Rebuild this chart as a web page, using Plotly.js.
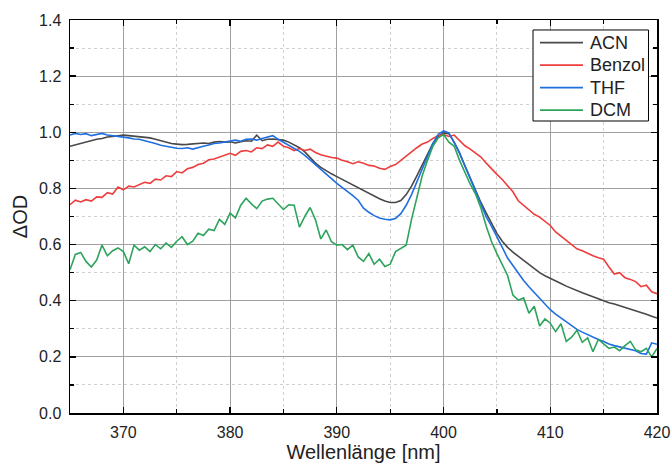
<!DOCTYPE html>
<html>
<head>
<meta charset="utf-8">
<script src="https://cdn.plot.ly/plotly-3.0.1.min.js"></script>
<style>html,body{margin:0;padding:0;background:#fff;}#chart{width:672px;height:467px;}</style>
</head>
<body>
<div id="chart"></div>
<script>
const wavelength = [365,365.5,366,366.5,367,367.5,368,368.5,369,369.5,370,370.5,371,371.5,372,372.5,373,373.5,374,374.5,
375,375.5,376,376.5,377,377.5,378,378.5,379,379.5,380,380.5,381,381.5,382,382.5,383,383.5,384,384.5,
385,385.5,386,386.5,387,387.5,388,388.5,389,389.5,390,390.5,391,391.5,392,392.5,393,393.5,394,394.5,
395,395.5,396,396.5,397,397.5,398,398.5,399,399.5,400,400.5,401,401.5,402,402.5,403,403.5,404,404.5,
405,405.5,406,406.5,407,407.5,408,408.5,409,409.5,410,410.5,411,411.5,412,412.5,413,413.5,414,414.5,
415,415.5,416,416.5,417,417.5,418,418.5,419,419.5,420];

const acn = [0.950,0.955,0.962,0.965,0.970,0.975,0.978,0.983,0.985,0.988,0.990,0.988,0.986,0.985,0.983,0.980,0.975,0.970,0.965,0.960,
0.958,0.956,0.957,0.958,0.960,0.962,0.960,0.965,0.967,0.965,0.966,0.962,0.966,0.970,0.968,0.990,0.970,0.975,0.976,0.975,
0.972,0.965,0.955,0.945,0.930,0.910,0.890,0.875,0.862,0.852,0.842,0.832,0.822,0.812,0.802,0.792,0.782,0.772,0.763,0.755,
0.750,0.750,0.757,0.778,0.808,0.845,0.885,0.925,0.960,0.985,0.998,0.995,0.965,0.925,0.880,0.835,0.790,0.750,0.712,0.675,
0.640,0.612,0.590,0.573,0.558,0.542,0.527,0.512,0.500,0.489,0.479,0.470,0.461,0.452,0.443,0.435,0.428,0.421,0.414,0.406,
0.398,0.393,0.388,0.382,0.377,0.371,0.366,0.360,0.352,0.345,0.338];

const benzol = [0.742,0.758,0.752,0.760,0.755,0.770,0.768,0.785,0.780,0.805,0.795,0.808,0.805,0.815,0.822,0.818,0.833,0.830,0.845,0.842,
0.860,0.855,0.870,0.875,0.885,0.890,0.902,0.905,0.912,0.920,0.925,0.918,0.932,0.935,0.930,0.945,0.942,0.955,0.950,0.965,
0.950,0.945,0.935,0.942,0.935,0.940,0.928,0.920,0.915,0.910,0.908,0.900,0.895,0.888,0.895,0.890,0.882,0.880,0.872,0.868,
0.878,0.885,0.900,0.915,0.932,0.945,0.958,0.965,0.978,0.988,0.992,0.985,0.990,0.970,0.952,0.940,0.925,0.912,0.890,0.868,
0.850,0.832,0.810,0.788,0.756,0.740,0.722,0.708,0.698,0.682,0.668,0.645,0.630,0.618,0.600,0.585,0.578,0.568,0.560,0.553,
0.548,0.520,0.495,0.500,0.482,0.476,0.468,0.450,0.455,0.432,0.425];

const thf = [0.990,0.996,0.992,0.995,0.988,0.993,0.996,0.990,0.988,0.986,0.982,0.980,0.976,0.975,0.970,0.966,0.960,0.954,0.950,0.946,
0.943,0.942,0.945,0.940,0.946,0.950,0.955,0.960,0.962,0.966,0.970,0.972,0.968,0.975,0.976,0.972,0.978,0.984,0.988,0.975,
0.965,0.955,0.945,0.932,0.918,0.902,0.885,0.868,0.852,0.835,0.818,0.804,0.790,0.774,0.758,0.730,0.715,0.703,0.695,0.690,
0.688,0.693,0.710,0.740,0.778,0.823,0.870,0.915,0.960,0.993,1.005,0.998,0.965,0.928,0.880,0.835,0.785,0.740,0.699,0.665,
0.625,0.590,0.552,0.525,0.498,0.472,0.450,0.430,0.410,0.390,0.368,0.352,0.338,0.323,0.310,0.298,0.288,0.279,0.270,0.262,
0.255,0.246,0.240,0.236,0.232,0.228,0.222,0.212,0.210,0.250,0.245];

const dcm = [0.510,0.565,0.572,0.540,0.520,0.545,0.598,0.560,0.578,0.588,0.575,0.532,0.598,0.580,0.592,0.575,0.600,0.585,0.605,0.590,
0.612,0.628,0.600,0.612,0.640,0.632,0.655,0.650,0.690,0.672,0.712,0.695,0.740,0.765,0.745,0.728,0.755,0.762,0.765,0.745,
0.725,0.742,0.740,0.662,0.700,0.732,0.688,0.620,0.652,0.610,0.598,0.600,0.582,0.598,0.556,0.540,0.568,0.530,0.548,0.522,
0.530,0.575,0.585,0.598,0.690,0.770,0.845,0.900,0.950,0.980,0.992,0.965,0.950,0.900,0.855,0.815,0.780,0.730,0.665,0.610,
0.568,0.530,0.490,0.420,0.402,0.410,0.355,0.380,0.310,0.335,0.320,0.290,0.318,0.255,0.270,0.295,0.252,0.268,0.218,0.262,
0.245,0.230,0.235,0.222,0.240,0.255,0.225,0.218,0.230,0.200,0.230];

const seriesNames = ['ACN', 'Benzol', 'THF', 'DCM'];
const seriesValues = [acn, benzol, thf, dcm];
const seriesColors = ['#484848', '#ee3d3d', '#1f6fe0', '#2ea35c'];

const traces = seriesNames.map((name, i) => ({
  x: wavelength, y: seriesValues[i], name: name, type: 'scatter', mode: 'lines',
  line: {color: seriesColors[i], width: 1.6}, showlegend: false
}));

// Legend drawn as a framed box (paper coordinates)
const legBox = {x0: 0.7888, x1: 0.9855, y0: 0.743, y1: 0.9746};
const legRowTop = 0.9422, legRowGap = 0.0571;
const legLineX0 = 0.8007, legLineX1 = 0.8739, legTextX = 0.8825;

const shapes = [{
  type: 'rect', xref: 'paper', yref: 'paper',
  x0: legBox.x0, x1: legBox.x1, y0: legBox.y0, y1: legBox.y1,
  line: {color: '#000', width: 1}, fillcolor: '#fff', layer: 'above'
}];
const annotations = [];
seriesNames.forEach((name, i) => {
  const yy = legRowTop - i * legRowGap;
  shapes.push({type: 'line', xref: 'paper', yref: 'paper', x0: legLineX0, x1: legLineX1, y0: yy, y1: yy,
    line: {color: seriesColors[i], width: 1.8}, layer: 'above'});
  annotations.push({xref: 'paper', yref: 'paper', x: legTextX, y: yy, xanchor: 'left', yanchor: 'middle',
    text: name, showarrow: false, font: {size: 18, color: '#222'}});
});

const axisCommon = {
  showline: true, linecolor: '#000', linewidth: 1.5, mirror: 'allticks',
  ticks: 'inside', ticklen: 6, tickwidth: 1.3, tickcolor: '#000',
  showgrid: true, gridcolor: '#a0a0a0', gridwidth: 1, zeroline: false,
  tickfont: {size: 16, color: '#222'},
  minor: {ticks: 'inside', ticklen: 4, tickwidth: 1.2, tickcolor: '#000', showgrid: true, gridcolor: '#d0d0d0', griddash: 'dot', gridwidth: 1}
};

const layout = {
  width: 672, height: 467,
  margin: {l: 70, r: 15, t: 20, b: 54},
  paper_bgcolor: '#fff', plot_bgcolor: '#fff',
  font: {family: 'Arial, "Liberation Sans", sans-serif', color: '#222'},
  showlegend: false,
  xaxis: Object.assign({}, axisCommon, {
    range: [365, 420], tick0: 370, dtick: 10, ticklabelstandoff: 4,
    minor: Object.assign({}, axisCommon.minor, {dtick: 5, tick0: 365}),
    title: {text: 'Wellenlänge [nm]', font: {size: 20, color: '#222'}, standoff: 2}
  }),
  yaxis: Object.assign({}, axisCommon, {
    range: [0, 1.4], tick0: 0, dtick: 0.2, tickformat: '.1f', ticklabelstandoff: 4,
    minor: Object.assign({}, axisCommon.minor, {dtick: 0.1, tick0: 0}),
    title: {text: 'ΔOD', font: {size: 20, color: '#222'}, standoff: 6}
  }),
  shapes: shapes,
  annotations: annotations
};

Plotly.newPlot('chart', traces, layout, {displayModeBar: false, staticPlot: true});
</script>
</body>
</html>
